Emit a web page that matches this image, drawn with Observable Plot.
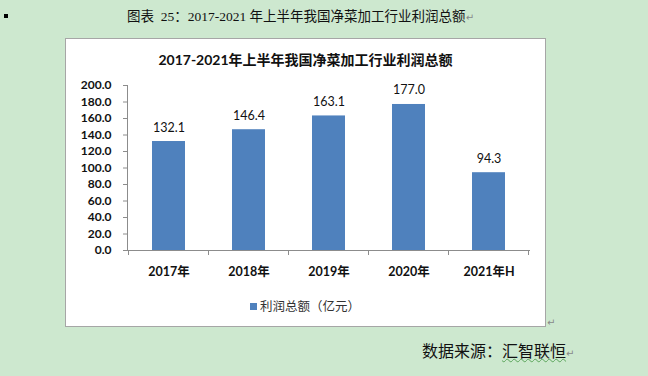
<!DOCTYPE html>
<html>
<head>
<meta charset="utf-8">
<script src="https://cdn.jsdelivr.net/npm/d3@7"></script>
<script src="https://cdn.jsdelivr.net/npm/@observablehq/plot@0.6"></script>
<style>
  html, body { margin: 0; padding: 0; }
  body { width: 648px; height: 376px; background: #cde8cf; position: relative; overflow: hidden;
         font-family: "Noto Sans CJK SC", sans-serif; }
  .abs { position: absolute; white-space: nowrap; }
  #bullet { left: 4px; top: 14px; width: 4px; height: 4px; background: #000; }
  #caption { left: 127px; top: 7px; font-size: 13.5px; line-height: 20px; color: #111;
             font-family: "Liberation Serif", "Noto Sans CJK SC", serif; }
  .ret { color: #888; font-size: 10px; font-family: "DejaVu Sans", sans-serif; }
  #box { left: 65px; top: 38px; width: 481px; height: 289px; box-sizing: border-box;
         background: #fff; border: 1px solid #a6a6a6; }
  #chart { position: absolute; left: 0; top: 0; }
  #title { left: 0; width: 479px; top: 12px; text-align: center; font-size: 14px; font-weight: bold;
           color: #111; font-family: "Lato", "Noto Sans CJK SC", sans-serif; line-height: 18px; }
  #legend { left: 184px; top: 258px; font-size: 12.5px; color: #333; line-height: 18px; }
  #legend .sw { display: inline-block; width: 7px; height: 7px; background: #4f81bd; margin-right: 3px; vertical-align: 1px; }
  #boxret { left: 547px; top: 317px; }
  #source { left: 422px; top: 339px; font-size: 16px; line-height: 22px; color: #111; }
  #source .sq { text-decoration: underline wavy #5aa55a; text-decoration-thickness: 1px; }
</style>
</head>
<body>
<div id="bullet" class="abs"></div>
<div id="caption" class="abs">图表&nbsp; 25：2017-2021 年上半年我国净菜加工行业利润总额<span class="ret">↵</span></div>
<div id="box" class="abs">
  <div id="chart"></div>
  <div id="title" class="abs"></div>
  <div id="legend" class="abs"></div>
</div>
<div id="boxret" class="abs ret">↵</div>
<div id="source" class="abs">数据来源：<span class="sq">汇智联恒</span><span class="ret">↵</span></div>
<script>
// ---- data ----
const categories = ["2017年", "2018年", "2019年", "2020年", "2021年H"];
const profits = [132.1, 146.4, 163.1, 177.0, 94.3];
const yTicks = [0, 20, 40, 60, 80, 100, 120, 140, 160, 180, 200];
const titleText = "2017-2021年上半年我国净菜加工行业利润总额";
const seriesName = "利润总额（亿元）";

const data = categories.map((c, i) => ({cat: c, value: profits[i]}));

document.getElementById("title").textContent = titleText;
document.getElementById("legend").innerHTML = '<span class="sw"></span>' + seriesName;

const axisColor = "#8c8c8c";
const numFont = "Lato, 'Noto Sans CJK SC', sans-serif";

const plot = Plot.plot({
  width: 479,
  height: 287,
  marginLeft: 61,
  marginRight: 15,
  marginTop: 46,
  marginBottom: 76,
  style: {background: "transparent", fontFamily: numFont, color: "#111"},
  x: {domain: categories, paddingInner: 0.59, paddingOuter: 0.295, label: null},
  y: {domain: [0, 200], label: null},
  marks: [
    Plot.barY(data, {x: "cat", y: "value", fill: "#4f81bd"}),
    Plot.frame({anchor: "left", stroke: axisColor}),
    Plot.ruleY([0], {stroke: axisColor}),
    Plot.axisY({ticks: yTicks, tickFormat: d => d.toFixed(1), tickSize: 4, tickPadding: 12,
                stroke: axisColor, fontSize: 12, fontWeight: "bold", label: null, color: "#111"}),
    Plot.axisX({tickSize: 0, tickPadding: 17, fontSize: 12.5, fontWeight: "bold", label: null}),
    Plot.text(data, {x: "cat", y: "value", text: d => d.value.toFixed(1), dy: -14,
                     fontSize: 12.5, fill: "#111"})
  ]
});
document.getElementById("chart").appendChild(plot);

// boundary tick marks on the category axis, from the band scale
const xs = plot.scale("x");
const ys = plot.scale("y");
const y0 = ys.apply(0);
const bounds = categories.map(c => xs.apply(c) + xs.bandwidth / 2 - xs.step / 2);
bounds.push(xs.apply(categories[categories.length - 1]) + xs.bandwidth / 2 + xs.step / 2);
const g = d3.select(plot).append("g").attr("stroke", axisColor);
g.selectAll("line").data(bounds).join("line")
  .attr("x1", d => d).attr("x2", d => d)
  .attr("y1", y0).attr("y2", y0 + 5);
</script>
</body>
</html>
